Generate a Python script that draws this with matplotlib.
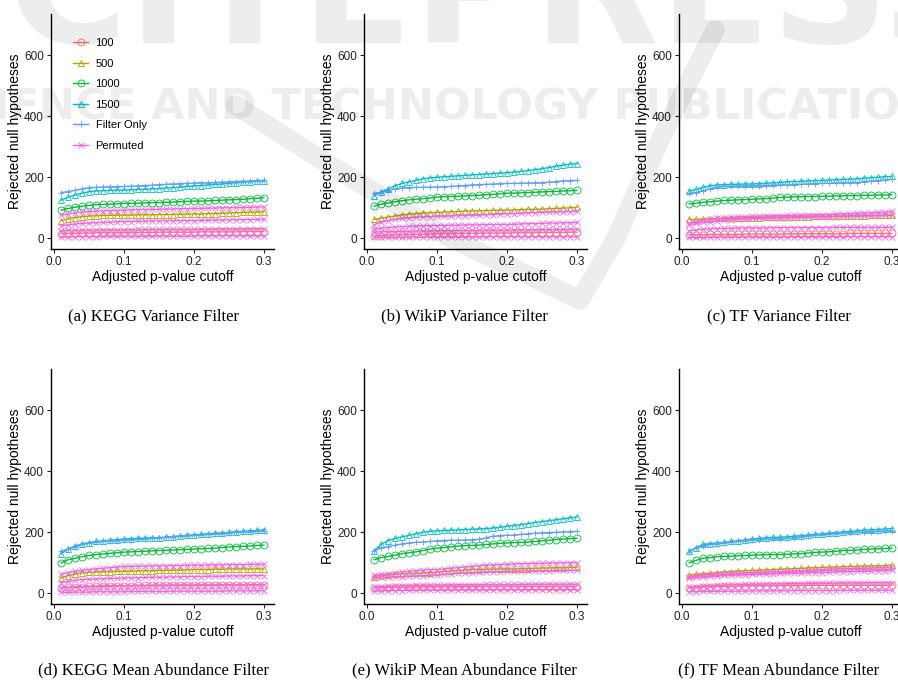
import matplotlib
matplotlib.use("Agg")
import matplotlib.pyplot as plt
import numpy as np

# adjusted p-value cutoffs (x axis)
cutoff = np.round(np.arange(1, 31) * 0.01, 2)

panels = ["(a) KEGG Variance Filter", "(b) WikiP Variance Filter", "(c) TF Variance Filter",
          "(d) KEGG Mean Abundance Filter", "(e) WikiP Mean Abundance Filter",
          "(f) TF Mean Abundance Filter"]

series_names = ["100", "500", "1000", "1500", "Filter Only", "Permuted"]

# one row per panel (a..f), 30 values per row
n100 = [
    [15,16,16,17,17,18,18,18,18,19,19,19,19,19,20,20,20,20,20,20,21,21,21,21,21,21,22,22,22,22],
    [8,9,10,11,12,12,13,13,14,15,15,15,16,16,16,16,17,17,17,17,18,18,18,18,19,19,19,19,20,20],
    [12,12,12,13,13,13,13,13,14,14,14,14,14,14,15,15,15,15,15,15,15,15,15,16,16,16,16,16,16,16],
    [18,20,21,22,23,24,24,25,25,25,25,26,26,26,26,26,27,27,27,27,27,27,27,28,28,28,28,28,28,28],
    [18,19,19,20,20,20,21,21,21,22,22,22,22,22,22,22,22,22,22,22,22,22,22,22,22,22,22,22,22,22],
    [18,19,20,21,22,23,23,24,24,25,25,25,25,25,26,26,26,26,26,26,26,26,26,26,26,26,26,26,26,26],
]
n500 = [
    [58,64,68,71,73,74,75,75,76,76,76,77,77,77,78,78,78,79,79,80,80,81,81,82,83,84,85,86,86,87],
    [62,66,70,73,77,79,81,83,84,85,86,87,88,89,90,90,91,92,92,93,93,94,95,95,96,97,98,99,100,102],
    [62,62,63,64,65,65,66,66,67,68,68,69,69,70,70,70,71,71,72,72,72,73,73,74,74,74,75,75,76,76],
    [50,58,63,67,69,70,71,71,72,72,73,73,74,74,75,75,76,76,77,78,78,78,79,79,80,80,80,80,80,80],
    [55,58,60,62,64,65,66,67,68,70,72,73,75,76,78,78,79,79,80,80,80,81,81,82,83,83,84,84,85,85],
    [60,62,64,66,68,70,71,73,74,75,76,77,78,79,80,81,82,83,84,85,86,86,87,88,88,89,90,90,91,92],
]
n1000 = [
    [92,98,102,105,108,110,111,112,113,114,115,115,116,117,117,118,119,120,121,122,122,123,124,125,126,127,128,130,131,133],
    [105,112,116,120,123,126,128,130,132,135,136,137,138,139,140,141,143,144,146,148,148,149,150,151,152,153,154,155,156,157],
    [113,115,118,120,122,124,125,126,127,128,129,130,132,134,135,136,136,137,137,138,138,139,139,140,140,141,141,142,142,143],
    [100,110,115,120,124,127,129,131,133,135,136,137,138,139,140,141,142,143,144,145,146,147,148,150,152,153,154,155,157,158],
    [110,117,121,125,130,133,136,140,145,148,150,152,155,156,157,158,160,162,164,165,166,167,168,170,172,174,176,178,179,180],
    [100,108,115,117,120,121,122,123,124,125,126,126,127,127,128,129,130,132,134,135,136,138,140,141,142,144,145,146,147,148],
]
n1500 = [
    [125,135,142,148,153,155,156,157,158,158,159,160,161,162,163,165,166,168,170,172,173,175,177,178,180,182,184,185,187,188],
    [140,152,162,172,180,185,190,195,198,200,202,203,205,206,208,209,211,212,214,215,217,219,222,225,228,232,236,240,243,245],
    [155,160,167,172,175,176,177,177,178,178,179,180,182,183,185,186,187,188,189,190,191,192,193,194,195,197,199,200,202,203],
    [130,145,155,162,166,170,172,174,176,178,179,180,181,182,182,184,186,188,190,192,193,195,197,198,200,202,203,205,206,208],
    [140,160,173,180,185,190,195,200,203,205,206,207,208,209,210,211,212,214,216,220,222,225,228,232,235,238,241,244,247,250],
    [138,150,160,163,165,167,170,172,175,178,180,182,183,184,185,187,189,191,193,195,197,199,201,203,205,207,208,209,211,212],
]
filter_only = [
    [150,153,157,162,166,167,168,169,169,170,171,172,173,174,176,177,178,179,180,181,182,182,183,184,185,186,187,188,189,190],
    [148,150,156,162,165,166,167,167,168,168,169,170,172,173,175,176,177,178,179,180,180,181,181,182,182,184,186,188,189,190],
    [148,150,155,162,168,170,171,171,172,172,173,173,174,175,175,176,177,178,179,180,180,181,181,182,182,184,187,189,191,193],
    [138,145,152,160,164,167,170,172,173,175,176,177,178,180,182,184,186,187,189,190,191,193,195,196,198,200,201,202,204,205],
    [140,148,153,158,162,165,167,168,170,172,173,174,174,175,175,177,182,187,189,190,191,193,195,197,198,199,200,201,202,203],
    [135,150,155,160,163,165,168,170,173,175,176,177,178,179,180,182,185,188,190,192,194,196,198,199,200,201,202,203,204,205],
]
# permuted runs: four per panel
perm_hi = [
    [75,80,83,86,88,89,90,91,91,92,93,94,94,95,95,96,96,97,97,98,98,99,99,100,100,101,101,102,102,103],
    [45,52,58,62,65,67,69,70,71,72,72,73,74,74,75,76,77,78,79,80,81,82,83,84,85,86,86,87,87,88],
    [50,55,59,62,65,67,69,70,71,72,73,73,74,74,75,76,76,77,77,78,78,79,80,81,82,83,84,85,86,88],
    [62,68,72,75,78,80,82,84,86,88,88,89,89,90,90,90,91,91,92,92,92,93,93,93,94,94,94,95,95,95],
    [60,62,64,67,70,72,74,76,77,78,80,82,84,86,88,90,92,93,94,95,96,97,97,98,98,99,99,100,100,100],
    [55,57,59,61,62,63,65,66,67,68,69,70,71,71,72,73,74,75,76,78,79,80,80,81,82,82,83,84,84,85],
]
perm_mid = [
    [40,44,47,49,50,51,52,53,54,55,55,56,56,57,57,57,58,58,58,58,59,59,60,60,60,61,61,61,62,62],
    [30,33,35,37,38,39,40,41,41,42,42,43,43,44,44,44,45,45,45,45,46,47,48,48,49,50,50,51,51,52],
    [45,49,52,55,58,60,61,63,64,65,65,66,67,67,68,68,69,69,70,70,71,71,72,72,73,73,74,74,75,75],
    [35,39,42,45,46,47,48,49,49,50,51,51,52,52,53,53,54,54,55,55,55,56,56,56,57,57,57,58,58,58],
    [50,52,53,54,55,56,57,58,59,60,62,64,66,67,68,69,70,71,71,72,72,73,73,74,74,74,75,75,75,75],
    [50,52,54,56,58,59,60,60,61,62,62,63,64,65,66,66,67,67,68,68,69,70,71,71,72,72,73,74,74,75],
]
perm_low = [
    [25,26,26,27,27,27,28,28,28,28,28,29,29,29,29,29,30,30,30,30,30,30,31,31,31,31,31,32,32,32],
    [20,21,22,22,23,23,24,24,24,25,25,25,26,26,26,26,27,27,27,27,28,28,28,28,29,29,29,29,30,30],
    [25,27,29,31,32,33,33,34,34,34,34,34,35,35,35,35,35,35,35,35,35,36,36,36,36,36,36,36,36,36],
    [18,19,20,21,22,22,23,23,24,25,25,25,25,26,26,26,26,27,27,27,27,27,27,28,28,28,28,28,28,28],
    [20,22,23,24,25,25,26,26,27,27,27,28,28,28,28,28,29,29,29,29,29,29,30,30,30,30,30,30,30,30],
    [20,22,24,25,26,27,28,28,29,30,30,31,31,31,32,32,32,33,33,33,33,34,34,34,34,34,35,35,35,35],
]
perm_min = [
    [4,4,5,5,5,5,6,6,6,6,6,6,7,7,7,7,7,7,7,7,8,8,8,8,8,8,8,8,8,8],
    [3,3,3,3,3,4,4,4,4,4,4,4,4,4,4,4,4,5,5,5,5,5,5,5,5,5,5,5,5,5],
    [3,3,3,3,4,4,4,4,4,4,4,4,4,4,4,5,5,5,5,5,5,5,5,5,5,5,5,5,5,5],
    [3,3,4,4,4,5,5,5,5,5,6,6,6,6,6,6,7,7,7,7,7,7,7,7,8,8,8,8,8,8],
    [8,8,9,9,9,10,10,10,10,10,11,11,11,11,11,11,11,12,12,12,12,12,12,12,12,12,12,12,12,12],
    [5,5,6,6,6,7,7,7,7,8,8,8,8,8,8,9,9,9,9,9,9,9,10,10,10,10,10,10,10,10],
]

# ggplot hue palette
colors = ["#F8766D", "#B79F00", "#00BA38", "#00BFC4", "#619CFF", "#F564E3"]
markers = ["o", "^", "o", "^", "+", "x"]

plt.rcParams["font.family"] = ["Liberation Sans", "DejaVu Sans"]

W, H = 898, 680
fig = plt.figure(figsize=(W / 100, H / 100), dpi=100)

lefts = [51, 364, 679]
tops = [14, 369]
aw, ah = 223, 235
cap_x = [153, 464, 779]
cap_y = [316, 670]


def style(ax):
    ax.set_xlim(-0.0045, 0.3145)
    ax.set_ylim(-35, 735)
    ax.set_xticks([0.0, 0.1, 0.2, 0.3])
    ax.set_xticklabels(["0.0", "0.1", "0.2", "0.3"])
    ax.set_yticks([0, 200, 400, 600])
    for s in ["top", "right"]:
        ax.spines[s].set_visible(False)
    for s in ["left", "bottom"]:
        ax.spines[s].set_linewidth(1.0)
    ax.tick_params(length=3, width=0.8, pad=2, labelsize=8.5, colors="#222222")
    ax.set_xlabel("Adjusted p-value cutoff", fontsize=10, labelpad=1.5)
    ax.set_ylabel("Rejected null hypotheses", fontsize=10, labelpad=1.5)


for i in range(6):
    r, c = divmod(i, 3)
    x0 = lefts[c] / W
    y0 = 1 - (tops[r] + ah) / H
    ax = fig.add_axes([x0, y0, aw / W, ah / H])
    main = [n100[i], n500[i], n1000[i], n1500[i], filter_only[i]]
    for k, vals in enumerate(main):
        ax.plot(cutoff, vals, color=colors[k], lw=1.0, marker=markers[k],
                ms=5, mew=0.6, fillstyle="none", label=series_names[k])
    perms = [perm_hi[i], perm_mid[i], perm_low[i], perm_min[i]]
    for j, vals in enumerate(perms):
        ax.plot(cutoff, vals, color=colors[5], lw=1.0, marker="x", ms=5,
                mew=0.6, label="Permuted" if j == 0 else None)
    style(ax)
    if i == 0:
        ax.legend(loc="upper left", bbox_to_anchor=(0.1, 0.898), frameon=False,
                  fontsize=8, handlelength=1.3, handletextpad=0.7,
                  labelspacing=0.95, borderpad=0, borderaxespad=0)
    fig.text(cap_x[c] / W, 1 - cap_y[r] / H, panels[i], ha="center", va="center",
             fontsize=12, family="Liberation Serif")

# faint publisher watermark over the figure
wm = dict(color="black", alpha=0.07, ha="center", weight="bold",
          family="DejaVu Sans", zorder=20)
fig.text(0.495, 1 - 43 / H, "SCITEPRESS", va="baseline", fontsize=118, **wm)
fig.text(0.5, 1 - 120 / H, "SCIENCE AND TECHNOLOGY PUBLICATIONS", va="baseline",
         fontsize=31, **wm)
sx = np.array([235, 330, 450, 580, 615, 660, 715]) / W
sy = 1 - np.array([105, 165, 238, 300, 240, 140, 30]) / H
fig.add_artist(plt.Line2D(sx, sy, color="black", alpha=0.07, lw=14,
                          solid_capstyle="round", solid_joinstyle="round",
                          transform=fig.transFigure, zorder=20))

fig.savefig("out.png", dpi=100)
